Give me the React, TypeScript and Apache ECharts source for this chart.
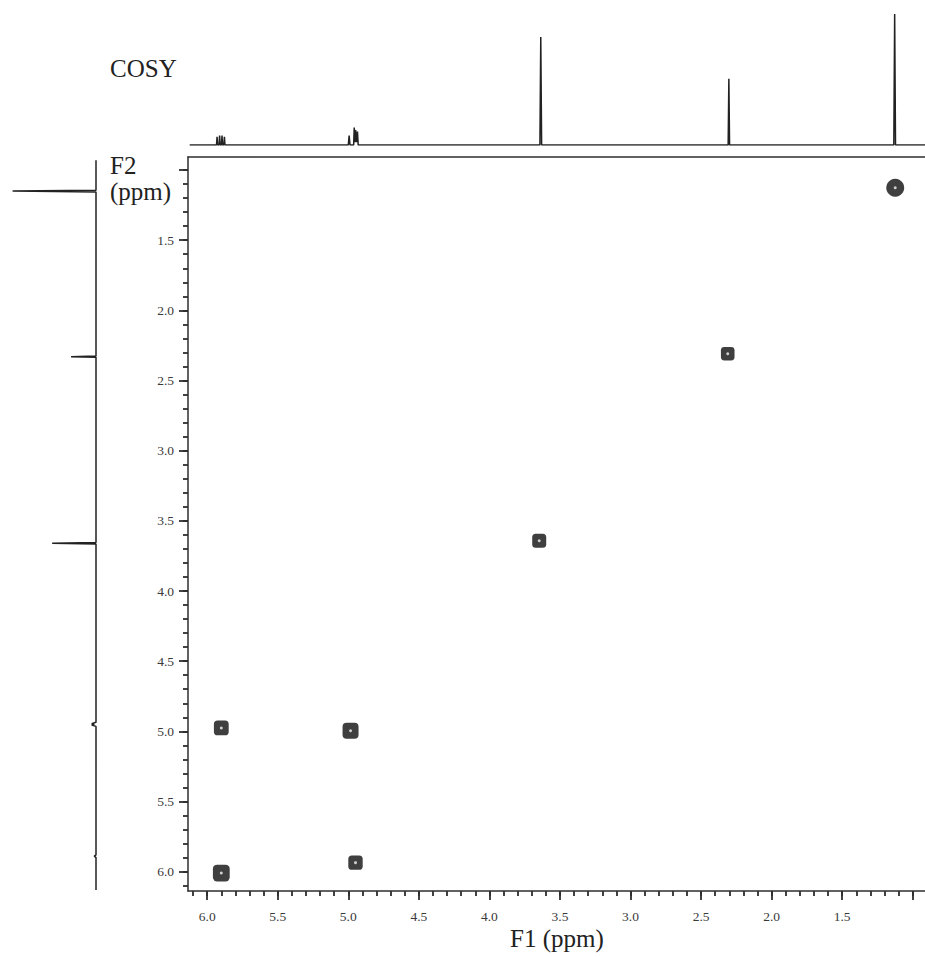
import React, { useEffect, useRef } from "react";
import * as echarts from "echarts";

// Axis extents (ppm) as seen in the picture
const F1_RANGE = [0.913, 6.136];
const F2_RANGE = [0.907, 6.138];

// Tick marks and labels
const majorTicks = [1.0, 1.5, 2.0, 2.5, 3.0, 3.5, 4.0, 4.5, 5.0, 5.5, 6.0];
const tickLabels = [1.5, 2.0, 2.5, 3.0, 3.5, 4.0, 4.5, 5.0, 5.5, 6.0];
const minorTicks = [
  1.0, 1.1, 1.2, 1.3, 1.4, 1.5, 1.6, 1.7, 1.8, 1.9, 2.0, 2.1, 2.2, 2.3, 2.4, 2.5,
  2.6, 2.7, 2.8, 2.9, 3.0, 3.1, 3.2, 3.3, 3.4, 3.5, 3.6, 3.7, 3.8, 3.9, 4.0, 4.1,
  4.2, 4.3, 4.4, 4.5, 4.6, 4.7, 4.8, 4.9, 5.0, 5.1, 5.2, 5.3, 5.4, 5.5, 5.6, 5.7,
  5.8, 5.9, 6.0, 6.1,
];

// 2D cross peaks (F1 ppm, F2 ppm, relative volume)
const crossPeakF1 = [1.124, 2.311, 3.647, 5.9, 4.984, 5.9, 4.949];
const crossPeakF2 = [1.126, 2.309, 3.642, 4.976, 4.996, 6.01, 5.936];
const crossPeakVolume = [1.0, 0.45, 0.5, 0.6, 0.75, 0.85, 0.55];

// Top 1D projection (F1): ppm and intensity
const topPpm = [
  6.124, 5.934, 5.93, 5.926, 5.916, 5.912, 5.908, 5.899, 5.895, 5.891, 5.882, 5.878, 5.874,
  5.0, 4.994, 4.988, 4.962, 4.958, 4.953, 4.948, 4.942, 4.935, 4.93,
  3.642, 3.636, 3.63, 2.308, 2.303, 2.298, 1.134, 1.128, 1.122, 0.913,
];
const topIntensity = [
  0, 0, 6, 0, 0, 7, 0, 0, 7, 0, 0, 6, 0,
  0, 7, 0, 0, 13, 2, 11, 2, 10, 0,
  0, 80, 0, 0, 49, 0, 0, 97, 0, 0,
];

// Left 1D projection (F2): ppm and intensity
const leftPpm = [
  0.93, 1.144, 1.15, 1.156, 2.325, 2.33, 2.335, 3.655, 3.66, 3.665,
  4.935, 4.945, 4.95, 4.955, 4.965, 5.88, 5.89, 5.9, 6.13,
];
const leftIntensity = [0, 0, 97, 0, 0, 29, 0, 0, 51, 0, 0, 5, 2, 5, 0, 0, 2, 0, 0];

const FONT = "'Liberation Serif', 'Times New Roman', serif";
const INK = "#2e2e2e";

export default function App() {
  const ref = useRef<HTMLDivElement>(null);

  useEffect(() => {
    if (!ref.current) return;
    const chart = echarts.init(ref.current, undefined, { renderer: "svg" });

    const peaks = crossPeakF1.map((f1, i) => [f1, crossPeakF2[i], crossPeakVolume[i]]);
    const topData = topPpm.map((p, i) => [p, topIntensity[i]]);
    const leftData = leftPpm.map((p, i) => [leftIntensity[i], p]);

    const axisLineStyle = { color: INK, width: 1.5 };
    const labelStyle = {
      fontFamily: FONT,
      fontSize: 13.5,
      color: "#3a3a3a",
      formatter: (v: number) => v.toFixed(1),
    };

    const option: any = {
      animation: false,
      backgroundColor: "#fff",
      grid: [
        { left: 188, top: 157, width: 737, height: 734 },
        { left: 188, top: 10, width: 737, height: 135 },
        { left: 10, top: 157, width: 86, height: 734 },
      ],
      xAxis: [
        {
          gridIndex: 0,
          type: "value",
          min: F1_RANGE[0],
          max: F1_RANGE[1],
          inverse: true,
          position: "bottom",
          axisLine: { show: true, lineStyle: axisLineStyle },
          axisTick: {
            show: true,
            customValues: majorTicks,
            length: 9,
            lineStyle: { color: INK, width: 1.8 },
          },
          axisLabel: { ...labelStyle, customValues: tickLabels, margin: 18 },
          splitLine: { show: false },
        },
        {
          gridIndex: 0,
          type: "value",
          min: F1_RANGE[0],
          max: F1_RANGE[1],
          inverse: true,
          position: "bottom",
          axisLine: { show: false },
          axisTick: {
            show: true,
            customValues: minorTicks,
            length: 5,
            lineStyle: { color: INK, width: 1.8 },
          },
          axisLabel: { show: false },
          splitLine: { show: false },
        },
        {
          gridIndex: 0,
          type: "value",
          min: F1_RANGE[0],
          max: F1_RANGE[1],
          inverse: true,
          position: "top",
          axisLine: { show: true, lineStyle: axisLineStyle },
          axisTick: { show: false },
          axisLabel: { show: false },
          splitLine: { show: false },
        },
        {
          gridIndex: 1,
          type: "value",
          min: F1_RANGE[0],
          max: F1_RANGE[1],
          inverse: true,
          show: false,
        },
        {
          gridIndex: 2,
          type: "value",
          min: 0,
          max: 100,
          inverse: true,
          show: false,
        },
      ],
      yAxis: [
        {
          gridIndex: 0,
          type: "value",
          min: F2_RANGE[0],
          max: F2_RANGE[1],
          inverse: true,
          position: "left",
          axisLine: { show: true, lineStyle: axisLineStyle },
          axisTick: {
            show: true,
            customValues: majorTicks,
            length: 9,
            lineStyle: { color: INK, width: 1.8 },
          },
          axisLabel: { ...labelStyle, customValues: tickLabels, margin: 14 },
          splitLine: { show: false },
        },
        {
          gridIndex: 0,
          type: "value",
          min: F2_RANGE[0],
          max: F2_RANGE[1],
          inverse: true,
          position: "left",
          axisLine: { show: false },
          axisTick: {
            show: true,
            customValues: minorTicks,
            length: 5,
            lineStyle: { color: INK, width: 1.8 },
          },
          axisLabel: { show: false },
          splitLine: { show: false },
        },
        {
          gridIndex: 1,
          type: "value",
          min: 0,
          max: 100,
          show: false,
        },
        {
          gridIndex: 2,
          type: "value",
          min: F2_RANGE[0],
          max: F2_RANGE[1],
          inverse: true,
          show: false,
        },
      ],
      series: [
        {
          type: "scatter",
          xAxisIndex: 0,
          yAxisIndex: 0,
          data: peaks,
          symbol: (d: number[]) => (d[2] >= 1 ? "circle" : "roundRect"),
          symbolSize: (d: number[]) => 10 + 8 * d[2],
          itemStyle: { color: "#3f3f3f", opacity: 1 },
          z: 3,
        },
        {
          type: "scatter",
          xAxisIndex: 0,
          yAxisIndex: 0,
          data: peaks,
          symbol: "circle",
          symbolSize: 3,
          itemStyle: { color: "#cfcfcf", opacity: 1 },
          z: 4,
        },
        {
          type: "line",
          xAxisIndex: 3,
          yAxisIndex: 2,
          data: topData,
          showSymbol: false,
          symbol: "none",
          lineStyle: { color: "#222", width: 1.5 },
        },
        {
          type: "line",
          xAxisIndex: 4,
          yAxisIndex: 3,
          data: leftData,
          showSymbol: false,
          symbol: "none",
          lineStyle: { color: "#222", width: 1.5 },
        },
      ],
      graphic: [
        {
          type: "text",
          x: 110,
          y: 68,
          style: { text: "COSY", fontFamily: FONT, fontSize: 25, fill: "#222", verticalAlign: "middle" },
        },
        {
          type: "text",
          x: 110,
          y: 165,
          style: { text: "F2", fontFamily: FONT, fontSize: 25, fill: "#222", verticalAlign: "middle" },
        },
        {
          type: "text",
          x: 110,
          y: 191,
          style: { text: "(ppm)", fontFamily: FONT, fontSize: 25, fill: "#222", verticalAlign: "middle" },
        },
        {
          type: "text",
          x: 510,
          y: 938,
          style: { text: "F1 (ppm)", fontFamily: FONT, fontSize: 25, fill: "#222", verticalAlign: "middle" },
        },
      ],
    };

    chart.setOption(option);
    return () => chart.dispose();
  }, []);

  return (
    <div
      ref={ref}
      style={{ position: "fixed", left: 0, top: 0, width: 925, height: 957, background: "#fff" }}
    />
  );
}
